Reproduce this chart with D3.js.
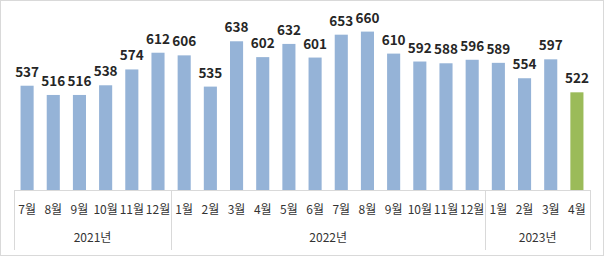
<!DOCTYPE html>
<html>
<head>
<meta charset="utf-8">
<script src="https://cdnjs.cloudflare.com/ajax/libs/d3/7.8.5/d3.min.js"></script>
<style>
  body { margin: 0; background: #fff; }
  text { font-family: "Noto Sans CJK KR", "Noto Sans", sans-serif; }
</style>
</head>
<body>
<script>
var W = 605, H = 257;
var margin = {top: 14, right: 15, bottom: 67, left: 14},
    width = 590 - margin.left,
    height = 190 - margin.top;

// data
var months = ["7월","8월","9월","10월","11월","12월",
              "1월","2월","3월","4월","5월","6월","7월","8월","9월","10월","11월","12월",
              "1월","2월","3월","4월"];
var years = ["2021년","2022년","2023년"];
var yearCounts = [6, 12, 4];
var values = [537,516,516,538,574,612,606,535,638,602,632,601,653,660,610,592,588,596,589,554,597,522];
var highlight = 21; // last bar in green

var svg = d3.select("body").append("svg")
    .attr("width", W)
    .attr("height", H);

// outer border
svg.append("rect")
    .attr("x", 0.5).attr("y", 0.5)
    .attr("width", W - 2).attr("height", H - 2)
    .style("fill", "none")
    .style("stroke", "#d9d9d9");

var g = svg.append("g")
    .attr("transform", "translate(" + margin.left + "," + margin.top + ")");

var idx = d3.range(values.length);
var x = d3.scaleBand()
    .domain(idx)
    .range([0, width])
    .paddingInner(0.5)
    .paddingOuter(0.25);
var step = x.step();

var y = d3.scaleLinear()
    .domain([300, 700])
    .range([height, 0]);

g.selectAll("rect.bar")
    .data(values)
  .enter().append("rect")
    .attr("class", "bar")
    .attr("x", function(d, i) { return x(i); })
    .attr("width", x.bandwidth())
    .attr("y", function(d) { return y(d); })
    .attr("height", function(d) { return height - y(d); })
    .style("fill", function(d, i) { return i == highlight ? "#9bbb59" : "#95b3d7"; });

g.selectAll("text.val")
    .data(values)
  .enter().append("text")
    .attr("class", "val")
    .attr("x", function(d, i) { return x(i) + x.bandwidth() / 2; })
    .attr("y", function(d) { return y(d) - 9; })
    .attr("text-anchor", "middle")
    .style("font-size", "13.5px")
    .style("font-weight", "bold")
    .style("fill", "#262626")
    .text(function(d) { return d; });

// axis line
g.append("line")
    .attr("x1", 0).attr("x2", width)
    .attr("y1", height + 0.5).attr("y2", height + 0.5)
    .style("stroke", "#d9d9d9");

// month labels
g.selectAll("text.month")
    .data(months)
  .enter().append("text")
    .attr("class", "month")
    .attr("x", function(d, i) { return x(i) + x.bandwidth() / 2; })
    .attr("y", height + 24)
    .attr("text-anchor", "middle")
    .style("font-size", "12px")
    .style("fill", "#333")
    .text(function(d) { return d; });

// year groups
var bounds = [0];
yearCounts.forEach(function(c, i) { bounds.push(bounds[i] + c); });

g.selectAll("line.div")
    .data(bounds)
  .enter().append("line")
    .attr("class", "div")
    .attr("x1", function(d) { return Math.round(d * step) + 0.5; })
    .attr("x2", function(d) { return Math.round(d * step) + 0.5; })
    .attr("y1", height)
    .attr("y2", height + 60)
    .style("stroke", "#d9d9d9");

g.selectAll("text.year")
    .data(years)
  .enter().append("text")
    .attr("class", "year")
    .attr("x", function(d, i) { return (bounds[i] + bounds[i + 1]) / 2 * step; })
    .attr("y", height + 52)
    .attr("text-anchor", "middle")
    .style("font-size", "12px")
    .style("fill", "#333")
    .text(function(d) { return d; });
</script>
</body>
</html>
